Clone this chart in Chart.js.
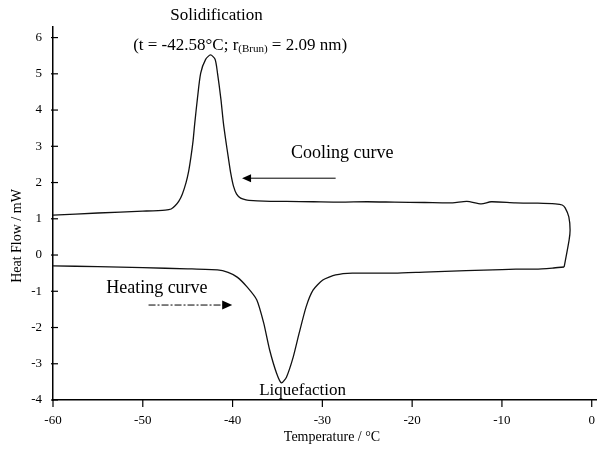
<!DOCTYPE html>
<html>
<head>
<meta charset="utf-8">
<script src="https://cdn.jsdelivr.net/npm/chart.js@4"></script>
<style>
  body { margin: 0; background: #fff; }
  canvas { display: block; }
</style>
</head>
<body>
<canvas id="dsc" width="608" height="451"></canvas>
<script>
// tick values
const xTicks = [-60, -50, -40, -30, -20, -10, 0];
const yTicks = [-4, -3, -2, -1, 0, 1, 2, 3, 4, 5, 6];

// heating curve (read left to right)
const heatT = [-60, -55, -50, -45, -41.68, -40.5, -39.49, -38.39, -37.3, -36.53, -35.87, -35.1, -34.55, -34.0, -33.24, -32.58, -31.81, -31.04, -29.95, -28.52, -26.66, -21.94, -18.65, -14, -10, -8.45, -6.25, -4.38, -3.07];
const heatQ = [-0.30, -0.32, -0.35, -0.38, -0.41, -0.48, -0.61, -0.88, -1.24, -1.88, -2.62, -3.26, -3.53, -3.37, -2.81, -2.15, -1.43, -0.97, -0.69, -0.55, -0.50, -0.50, -0.47, -0.43, -0.40, -0.39, -0.39, -0.36, -0.33];

// cooling curve (starts at the end of heating, goes up and back to -60)
const coolT = [-3.07, -2.52, -2.41, -2.55, -2.96, -3.29, -4.06, -6, -8.5, -11.2, -12.3, -13.9, -15.5, -18.6, -22, -25, -28, -31, -34, -36.5,
  -38.17, -38.5, -39.1, -39.55, -39.9, -40.2, -40.48, -40.75, -41.02, -41.3, -41.68, -41.95, -42.45, -43.0, -43.55, -43.9, -44.21, -44.4, -44.64, -44.9, -45.19, -45.6, -46.0, -46.4, -46.84, -47.5,
  -50, -55, -60];
const coolQ = [-0.33, 0.41, 0.69, 1.05, 1.30, 1.38, 1.41, 1.43, 1.44, 1.47, 1.41, 1.48, 1.44, 1.45, 1.46, 1.47, 1.46, 1.47, 1.48, 1.49,
  1.51, 1.52, 1.57, 1.68, 1.90, 2.25, 2.70, 3.15, 3.64, 4.30, 5.02, 5.40, 5.52, 5.40, 5.02, 4.35, 3.64, 3.15, 2.70, 2.30, 1.99, 1.68, 1.48, 1.36, 1.27, 1.24,
  1.21, 1.16, 1.10];

const serif = '"Liberation Serif", "DejaVu Serif", serif';

function toPoints(ts, qs) {
  return ts.map((t, i) => ({x: t, y: qs[i]}));
}

// texts, arrows, ticks and axis titles
const decor = {
  id: 'decor',
  afterDraw(chart) {
    const {ctx, scales: {x, y}} = chart;
    const px = v => x.getPixelForValue(v);
    const py = v => y.getPixelForValue(v);
    ctx.save();
    ctx.fillStyle = '#000';
    ctx.strokeStyle = '#000';
    ctx.lineWidth = 1.2;

    // tick marks
    xTicks.forEach(v => {
      ctx.beginPath();
      ctx.moveTo(px(v), y.bottom);
      ctx.lineTo(px(v), y.bottom + 7);
      ctx.stroke();
    });
    yTicks.forEach(v => {
      ctx.beginPath();
      ctx.moveTo(x.left - 2, py(v));
      ctx.lineTo(x.left + 5, py(v));
      ctx.stroke();
    });

    ctx.textBaseline = 'middle';
    ctx.textAlign = 'center';

    ctx.font = '17px ' + serif;
    ctx.fillText('Solidification', px(-41.79), py(6.62));

    // formula with subscript
    const parts = [['(t = -42.58°C; r', 17, 0], ['(Brun)', 11, 4], [' = 2.09 nm)', 17, 0]];
    let total = 0;
    parts.forEach(p => { ctx.font = p[1] + 'px ' + serif; total += ctx.measureText(p[0]).width; });
    let cx = px(-39.16) - total / 2;
    ctx.textAlign = 'left';
    parts.forEach(p => {
      ctx.font = p[1] + 'px ' + serif;
      ctx.fillText(p[0], cx, py(5.79) + p[2]);
      cx += ctx.measureText(p[0]).width;
    });

    ctx.font = '18px ' + serif;
    ctx.fillText('Cooling curve', px(-33.5), py(2.81));
    ctx.fillText('Heating curve', px(-54.08), py(-0.91));
    ctx.font = '17px ' + serif;
    ctx.textAlign = 'center';
    ctx.fillText('Liquefaction', px(-32.2), py(-3.73));

    // cooling arrow (solid, pointing left)
    let ay = py(2.12);
    ctx.lineWidth = 1;
    ctx.beginPath();
    ctx.moveTo(px(-28.52), ay);
    ctx.lineTo(px(-38.94) + 6, ay);
    ctx.stroke();
    ctx.beginPath();
    ctx.moveTo(px(-38.94), ay);
    ctx.lineTo(px(-38.94) + 9, ay - 4);
    ctx.lineTo(px(-38.94) + 9, ay + 4);
    ctx.closePath();
    ctx.fill();

    // heating arrow (dash-dot, pointing right)
    ay = py(-1.38);
    ctx.setLineDash([7, 2, 2, 2]);
    ctx.beginPath();
    ctx.moveTo(px(-49.36), ay);
    ctx.lineTo(px(-40.04) - 6, ay);
    ctx.stroke();
    ctx.setLineDash([]);
    ctx.beginPath();
    ctx.moveTo(px(-40.04), ay);
    ctx.lineTo(px(-40.04) - 10, ay - 4.5);
    ctx.lineTo(px(-40.04) - 10, ay + 4.5);
    ctx.closePath();
    ctx.fill();

    // axis titles
    ctx.font = '14px ' + serif;
    ctx.textAlign = 'center';
    ctx.fillText('Temperature / °C', 332, 437);
    ctx.translate(17, 236);
    ctx.rotate(-Math.PI / 2);
    ctx.fillText('Heat Flow / mW', 0, 0);
    ctx.restore();
  }
};

const tickFont = {family: serif, size: 13};

new Chart(document.getElementById('dsc'), {
  type: 'scatter',
  data: {
    datasets: [
      {
        label: 'Heating curve',
        data: toPoints(heatT, heatQ),
        showLine: true,
        borderColor: '#111',
        borderWidth: 1.3,
        pointRadius: 0,
        tension: 0.2
      },
      {
        label: 'Cooling curve',
        data: toPoints(coolT, coolQ),
        showLine: true,
        borderColor: '#111',
        borderWidth: 1.3,
        pointRadius: 0,
        tension: 0.25
      }
    ]
  },
  options: {
    responsive: false,
    animation: false,
    layout: {padding: {top: 26.7, right: 3.4, left: 0, bottom: 0}},
    plugins: {legend: {display: false}, tooltip: {enabled: false}},
    scales: {
      x: {
        type: 'linear',
        min: -60,
        max: 0.5,
        afterBuildTicks: s => { s.ticks = xTicks.map(v => ({value: v})); },
        afterFit: s => { s.height = 51; },
        grid: {display: false, drawTicks: false},
        border: {display: true, color: '#000', width: 1.5},
        ticks: {padding: 13, color: '#000', font: tickFont, maxRotation: 0, autoSkip: false}
      },
      y: {
        type: 'linear',
        min: -4,
        max: 6.3,
        afterBuildTicks: s => { s.ticks = yTicks.map(v => ({value: v})); },
        afterFit: s => { s.width = 53; },
        grid: {display: false, drawTicks: false},
        border: {display: true, color: '#000', width: 1.5},
        ticks: {padding: 11, color: '#000', font: tickFont, autoSkip: false}
      }
    }
  },
  plugins: [decor]
});
</script>
</body>
</html>
